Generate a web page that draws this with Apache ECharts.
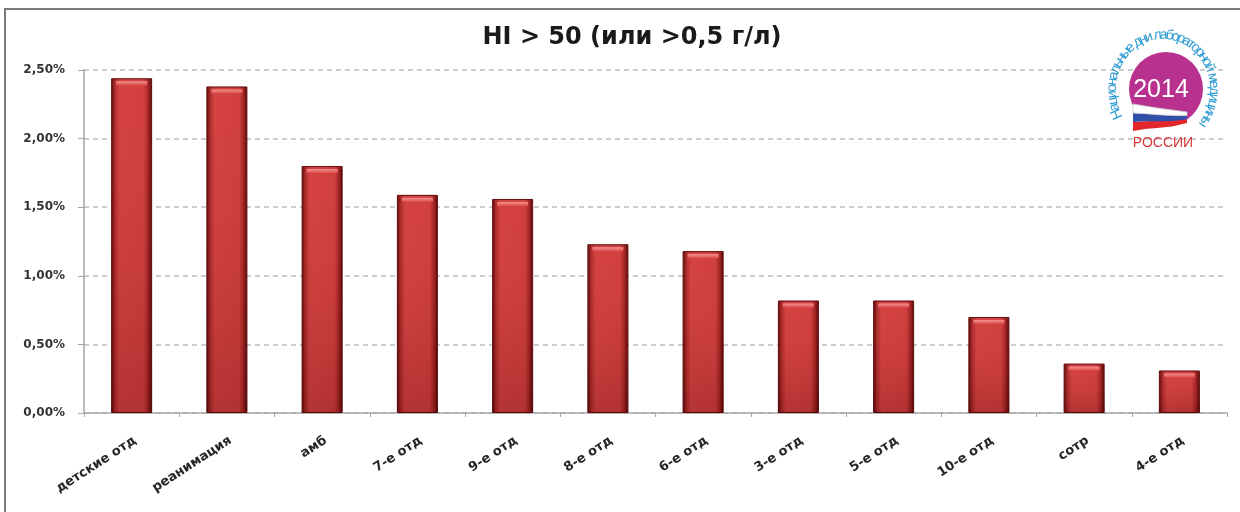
<!DOCTYPE html>
<html>
<head>
<meta charset="utf-8">
<title>HI > 50</title>
<script src="https://cdn.jsdelivr.net/npm/echarts@6/dist/echarts.min.js"></script>
<style>
  html, body { margin: 0; padding: 0; background: #ffffff; }
  #chart { width: 1240px; height: 512px; }
</style>
</head>
<body>
<div id="chart"></div>
<script>
// Share of samples with HI > 50, by department (percent)
const categories = ['детские отд', 'реанимация', 'амб', '7-е отд', '9-е отд', '8-е отд',
                    '6-е отд', '3-е отд', '5-е отд', '10-е отд', 'сотр', '4-е отд'];
const values = [2.44, 2.38, 1.80, 1.59, 1.56, 1.23, 1.18, 0.82, 0.82, 0.70, 0.36, 0.31];
const yMin = 0;
const yMax = 2.5;
const yStep = 0.5;
const titleText = 'HI > 50 (или >0,5 г/л)';
const logoYear = '2014';
const logoCountry = 'РОССИИ';
const logoRing = 'Национальные дни лабораторной медицины';

const chart = echarts.init(document.getElementById('chart'), null, { renderer: 'canvas' });

// ---- emblem: circle, year, waving flag, ring of text ----
const logo = [];
logo.push({
  type: 'circle', shape: { cx: 1166, cy: 89, r: 37 },
  style: { fill: '#b8318f' }, z: 10, silent: true
});
logo.push({
  type: 'text', x: 1161, y: 90, z: 12, silent: true,
  style: { text: logoYear, fill: '#ffffff', font: '25px "Liberation Sans", Arial, sans-serif',
           align: 'center', verticalAlign: 'middle' }
});
// flag: top and bottom edges, split into three stripes
const flagX = [1133, 1145, 1157, 1172, 1187];
const flagTop = [104, 106, 108, 110, 112];
const flagBot = [131, 129, 128, 126.5, 123];
const stripeFill = ['#ffffff', '#2f4fa8', '#e3262b'];
for (let s = 0; s < 3; s++) {
  const up = [], dn = [];
  for (let i = 0; i < flagX.length; i++) {
    const h = flagBot[i] - flagTop[i];
    up.push([flagX[i], flagTop[i] + h * s / 3]);
    dn.push([flagX[i], flagTop[i] + h * (s + 1) / 3]);
  }
  logo.push({
    type: 'polygon', z: 13 - s * 0.1, silent: true,
    shape: { points: up.concat(dn.reverse()) },
    style: { fill: stripeFill[s], stroke: s === 0 ? '#cfcfcf' : null, lineWidth: 0.8 }
  });
}
logo.push({
  type: 'text', x: 1163, y: 143, z: 12, silent: true,
  style: { text: logoCountry, fill: '#d8373a', font: '14px "Liberation Sans", Arial, sans-serif',
           align: 'center', verticalAlign: 'middle' }
});
// ring text laid out character by character along an ellipse
(function () {
  const font = '14px "Liberation Sans Narrow", "Liberation Sans", Arial, sans-serif';
  const ctx = document.createElement('canvas').getContext('2d');
  ctx.font = font;
  const chars = Array.from(logoRing);
  const widths = chars.map(c => ctx.measureText(c).width);
  const total = widths.reduce((a, b) => a + b, 0);
  const a0 = 210 * Math.PI / 180, a1 = -40 * Math.PI / 180;
  const rx = 51, ry = 55, cx = 1163, cy = 90;
  let acc = 0;
  chars.forEach((c, i) => {
    const t = (acc + widths[i] / 2) / total;
    acc += widths[i];
    const th = a0 + (a1 - a0) * t;
    const x = cx + rx * Math.cos(th);
    const y = cy - ry * Math.sin(th);
    const rot = Math.atan2(-ry * Math.cos(th), rx * Math.sin(th));
    logo.push({
      type: 'text', x: x, y: y, rotation: rot, z: 12, silent: true,
      style: { text: c, fill: '#2c9ad2', font: font, align: 'center', verticalAlign: 'middle' }
    });
  });
})();

// outer frame (left and top edges are visible)
const frame = {
  type: 'rect', shape: { x: 5, y: 9, width: 1300, height: 600 },
  style: { fill: null, stroke: '#7a7a7a', lineWidth: 2 }, z: 0, silent: true
};

const sideShade = new echarts.graphic.LinearGradient(0, 0, 1, 0, [
  { offset: 0, color: '#4e0404' },
  { offset: 0.09, color: '#a82a2a' },
  { offset: 0.2, color: '#d24242' },
  { offset: 0.8, color: '#cf3f3f' },
  { offset: 0.91, color: '#9c2222' },
  { offset: 1, color: '#440202' }
]);
const depthShade = new echarts.graphic.LinearGradient(0, 0, 0, 1, [
  { offset: 0, color: 'rgba(255,80,80,0.05)' },
  { offset: 1, color: 'rgba(70,0,0,0.22)' }
]);
const capShade = new echarts.graphic.LinearGradient(0, 0, 0, 1, [
  { offset: 0, color: '#f49090' },
  { offset: 1, color: '#dc4c4c' }
]);

const barW = 41;

chart.setOption({
  animation: false,
  backgroundColor: '#ffffff',
  title: {
    text: titleText,
    left: 627, top: 21, textAlign: 'center',
    textStyle: { fontFamily: '"DejaVu Sans", sans-serif', fontWeight: 'bold', fontSize: 24, color: '#1a1a1a' }
  },
  grid: { left: 84, right: 13, top: 70, bottom: 99, containLabel: false },
  xAxis: {
    type: 'category',
    data: categories,
    boundaryGap: true,
    axisLine: { lineStyle: { color: '#a6a6a6', width: 1.5 } },
    axisTick: { show: true, alignWithLabel: false, length: 4, lineStyle: { color: '#a6a6a6' } },
    axisLabel: {
      interval: 0, rotate: 33, margin: 21,
      align: 'right', verticalAlign: 'top',
      fontFamily: '"DejaVu Sans", sans-serif', fontWeight: 'bold', fontSize: 13, color: '#262626'
    }
  },
  yAxis: {
    type: 'value',
    min: yMin, max: yMax, interval: yStep,
    axisLine: { show: true, lineStyle: { color: '#a6a6a6', width: 1.5 } },
    axisTick: { show: true, length: 6, lineStyle: { color: '#a6a6a6' } },
    axisLabel: {
      margin: 19,
      formatter: v => v.toFixed(2).replace('.', ',') + '%',
      fontFamily: '"DejaVu Sans", sans-serif', fontWeight: 'bold', fontSize: 12, color: '#333333'
    },
    splitLine: { show: true, lineStyle: { color: '#bcbcbc', width: 1.5, type: [5, 4] } }
  },
  series: [
    {
      type: 'bar', data: values, barWidth: barW, z: 2,
      itemStyle: { color: sideShade, borderColor: '#5a0a0a', borderWidth: 1 }
    },
    {
      type: 'bar', data: values, barWidth: barW, barGap: '-100%', z: 3, silent: true,
      itemStyle: { color: depthShade }
    },
    {
      type: 'pictorialBar', data: values, z: 4, silent: true,
      symbol: 'rect', symbolSize: [barW - 10, 4], symbolPosition: 'end', symbolOffset: [0, 3],
      itemStyle: { color: capShade }
    }
  ],
  graphic: [frame].concat(logo)
});
</script>
</body>
</html>
